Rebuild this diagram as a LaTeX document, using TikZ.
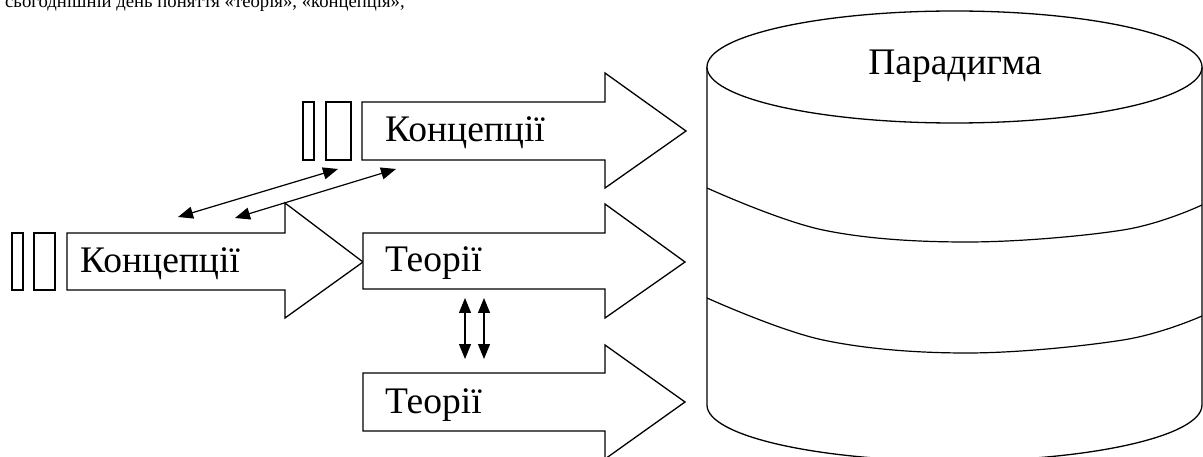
\documentclass[tikz,border=0pt]{standalone}
\usepackage{fontspec}
\setmainfont{Liberation Serif}
\usetikzlibrary{arrows.meta}
\tikzset{
  shape line/.style={draw=black, line width=1.3pt, line join=miter, fill=white},
  thin box/.style={draw=black, line width=1.2pt},
  link/.style={draw=black, line width=1.2pt, {Triangle[length=15pt,width=12pt]}-{Triangle[length=15pt,width=12pt]}},
  label text/.style={font=\fontsize{37.5}{42}\selectfont, inner sep=0pt, anchor=base west},
  body text/.style={font=\fontsize{18.7}{22}\selectfont, inner sep=0pt, anchor=base west}
}
\begin{document}
\begin{tikzpicture}[x=1pt,y=-1pt]
\clip (0,0) rectangle (1203,457);
\fill[white] (0,0) rectangle (1203,457);

% cut line of body text at the top
\node[body text] (intro) at (-21.5,7.5) {На сьогоднішній день поняття «теорія», «концепція»,};

% cylinder (paradigm)
\draw[shape line] (707,67) -- (707,405) arc[start angle=180, end angle=360, x radius=247.5pt, y radius=56pt] -- (1202,67);
\draw[shape line] (954.5,67) ellipse [x radius=247.5pt, y radius=56pt];
\draw[line width=1.2pt] plot[smooth, tension=0.6] coordinates {(707,188) (823,230) (967,242) (1123,230) (1202,205)};
\draw[line width=1.2pt] plot[smooth, tension=0.6] coordinates {(707,298) (823,340) (967,353) (1123,340) (1202,316)};
\node[label text, anchor=base] (par) at (955,75) {Парадигма};

% left block arrow
\draw[shape line] (67,233) -- (285,233) -- (285,203) -- (363,262) -- (285,318) -- (285,290) -- (67,290) -- cycle;
\draw[thin box] (12,233) rectangle (23,290);
\draw[thin box] (34,233) rectangle (55,290);
\node[label text] (k1) at (80,273) {Концепції};

% upper block arrow
\draw[shape line] (362,102) -- (605,102) -- (605,73) -- (686,131) -- (605,188) -- (605,160) -- (362,160) -- cycle;
\draw[thin box] (303,102) rectangle (314,160);
\draw[thin box] (326,102) rectangle (351,160);
\node[label text] (k2) at (385,142) {Концепції};

% middle block arrow
\draw[shape line] (363,233) -- (605,233) -- (605,204) -- (685,262) -- (605,318) -- (605,289) -- (363,289) -- cycle;
\node[label text] (t1) at (385,272) {Теорії};

% lower block arrow
\draw[shape line] (363,373) -- (605,373) -- (605,345) -- (685,402) -- (605,459) -- (605,431) -- (363,431) -- cycle;
\node[label text] (t2) at (385,413) {Теорії};

% connectors
\coordinate (a1) at (178,217);
\coordinate (a2) at (338,169);
\coordinate (b1) at (235,218);
\coordinate (b2) at (396,169);
\coordinate (c1) at (465,298);
\coordinate (c2) at (465,359);
\coordinate (d1) at (484,298);
\coordinate (d2) at (484,359);
\draw[link] (a1) -- (a2);
\draw[link] (b1) -- (b2);
\draw[link] (c1) -- (c2);
\draw[link] (d1) -- (d2);
\end{tikzpicture}
\end{document}
